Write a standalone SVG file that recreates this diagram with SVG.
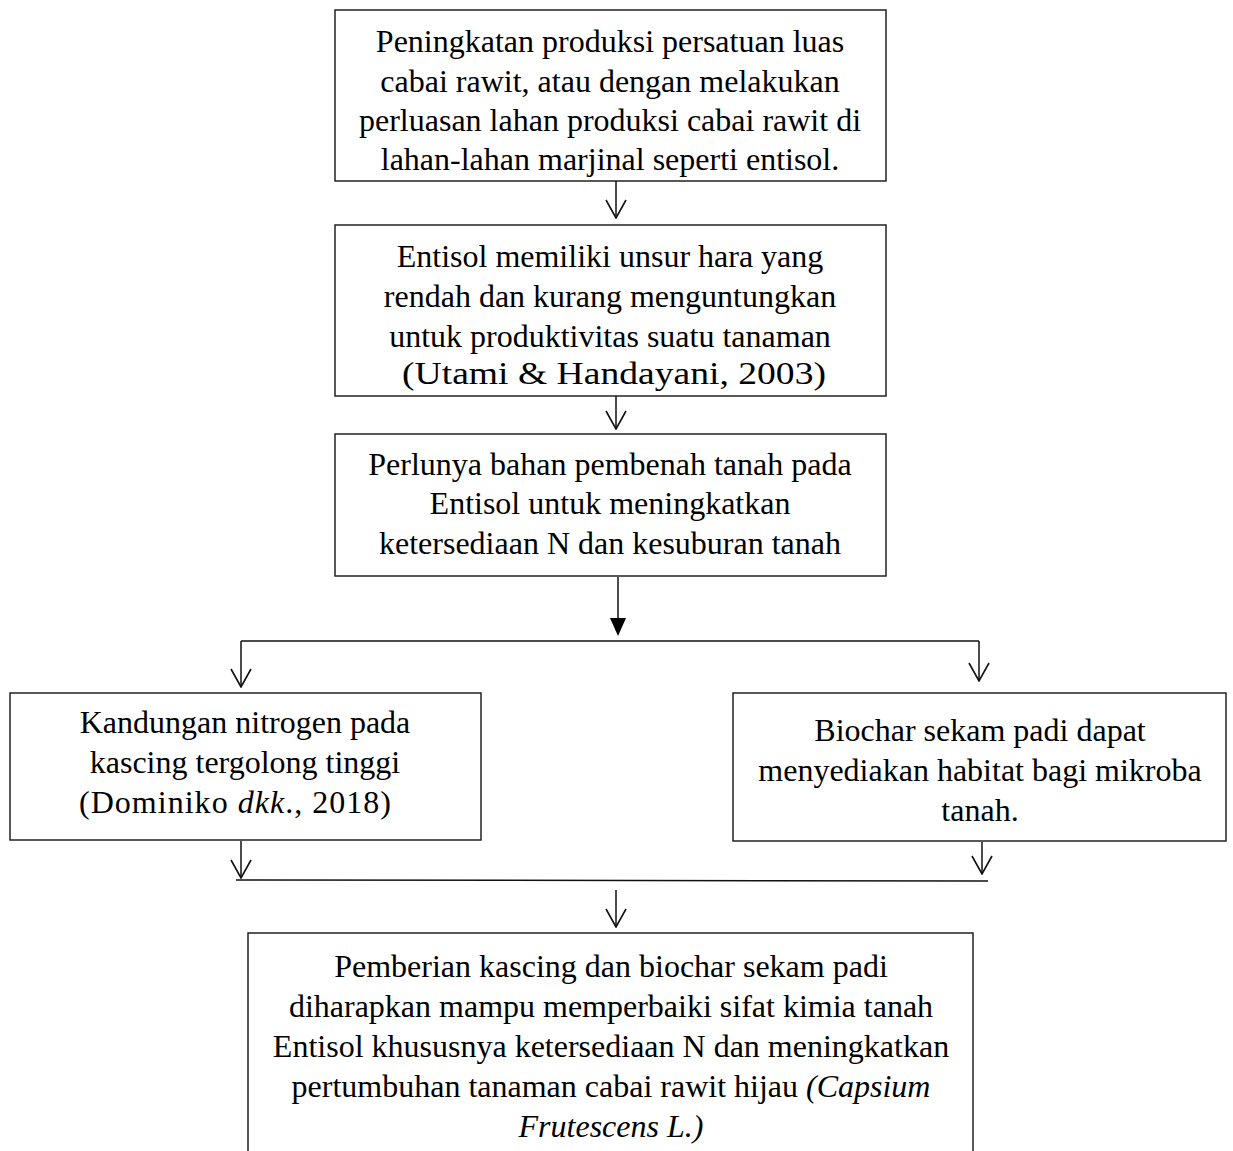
<svg xmlns="http://www.w3.org/2000/svg" width="1233" height="1151" viewBox="0 0 1233 1151">
<style>
.box{fill:#fff;stroke:#222;stroke-width:1.5}
.ln{fill:none;stroke:#111;stroke-width:1.5}
text{font-family:'Times New Roman','Liberation Serif',Tinos,serif;font-size:32px;fill:#000;text-anchor:middle}
.it{font-style:italic}
</style>
<defs>
<marker id="open" viewBox="0 0 20 22" refX="19" refY="11" markerWidth="20" markerHeight="22" markerUnits="userSpaceOnUse" orient="auto">
<path d="M1,1 L19,11 L1,21" fill="none" stroke="#111" stroke-width="1.6"/>
</marker>
</defs>
<rect width="1233" height="1151" fill="#fff"/>
<g id="n1"><rect class="box" x="335" y="10" width="551" height="171"/>
<text x="610" y="52">Peningkatan produksi persatuan luas</text>
<text x="610" y="92">cabai rawit, atau dengan melakukan</text>
<text x="610" y="131">perluasan lahan produksi cabai rawit di</text>
<text x="610" y="170">lahan-lahan marjinal seperti entisol.</text></g>
<g id="n2"><rect class="box" x="335" y="225" width="551" height="171"/>
<text x="610" y="267">Entisol memiliki unsur hara yang</text>
<text x="610" y="307">rendah dan kurang menguntungkan</text>
<text x="610" y="347">untuk produktivitas suatu tanaman</text>
<text x="614" y="384" textLength="424" lengthAdjust="spacingAndGlyphs">(Utami &amp; Handayani, 2003)</text></g>
<g id="n3"><rect class="box" x="335" y="434" width="551" height="142"/>
<text x="610" y="475">Perlunya bahan pembenah tanah pada</text>
<text x="610" y="514">Entisol untuk meningkatkan</text>
<text x="610" y="554">ketersediaan N dan kesuburan tanah</text></g>
<g id="n4"><rect class="box" x="10" y="693" width="471" height="147"/>
<text x="245" y="733">Kandungan nitrogen pada</text>
<text x="245" y="773">kascing tergolong tinggi</text>
<text x="235" y="813" textLength="312" lengthAdjust="spacing">(Dominiko <tspan class="it">dkk</tspan>., 2018)</text></g>
<g id="n5"><rect class="box" x="733" y="693" width="493" height="148"/>
<text x="980" y="741">Biochar sekam padi dapat</text>
<text x="980" y="781">menyediakan habitat bagi mikroba</text>
<text x="980" y="821">tanah.</text></g>
<g id="n6"><rect class="box" x="248" y="933" width="725" height="240"/>
<text x="611" y="977">Pemberian kascing dan biochar sekam padi</text>
<text x="611" y="1017">diharapkan mampu memperbaiki sifat kimia tanah</text>
<text x="611" y="1057">Entisol khususnya ketersediaan N dan meningkatkan</text>
<text x="611" y="1097">pertumbuhan tanaman cabai rawit hijau <tspan class="it">(Capsium</tspan></text>
<text x="611" y="1137" class="it">Frutescens L.)</text></g>
<g id="connectors">
<line class="ln" x1="616" y1="181" x2="616" y2="218" marker-end="url(#open)"/>
<line class="ln" x1="616" y1="396" x2="616" y2="429" marker-end="url(#open)"/>
<line class="ln" x1="618" y1="577" x2="618" y2="622"/>
<path d="M610,618 L626,618 L618,636 Z" fill="#000"/>
<line class="ln" x1="241" y1="641" x2="979" y2="641"/>
<line class="ln" x1="241" y1="641" x2="241" y2="687" marker-end="url(#open)"/>
<line class="ln" x1="979" y1="641" x2="979" y2="681" marker-end="url(#open)"/>
<line class="ln" x1="241" y1="841" x2="241" y2="878" marker-end="url(#open)"/>
<line class="ln" x1="982" y1="842" x2="982" y2="874" marker-end="url(#open)"/>
<line class="ln" x1="236" y1="880" x2="988" y2="881"/>
<line class="ln" x1="616" y1="890" x2="616" y2="927" marker-end="url(#open)"/>
</g>
</svg>
